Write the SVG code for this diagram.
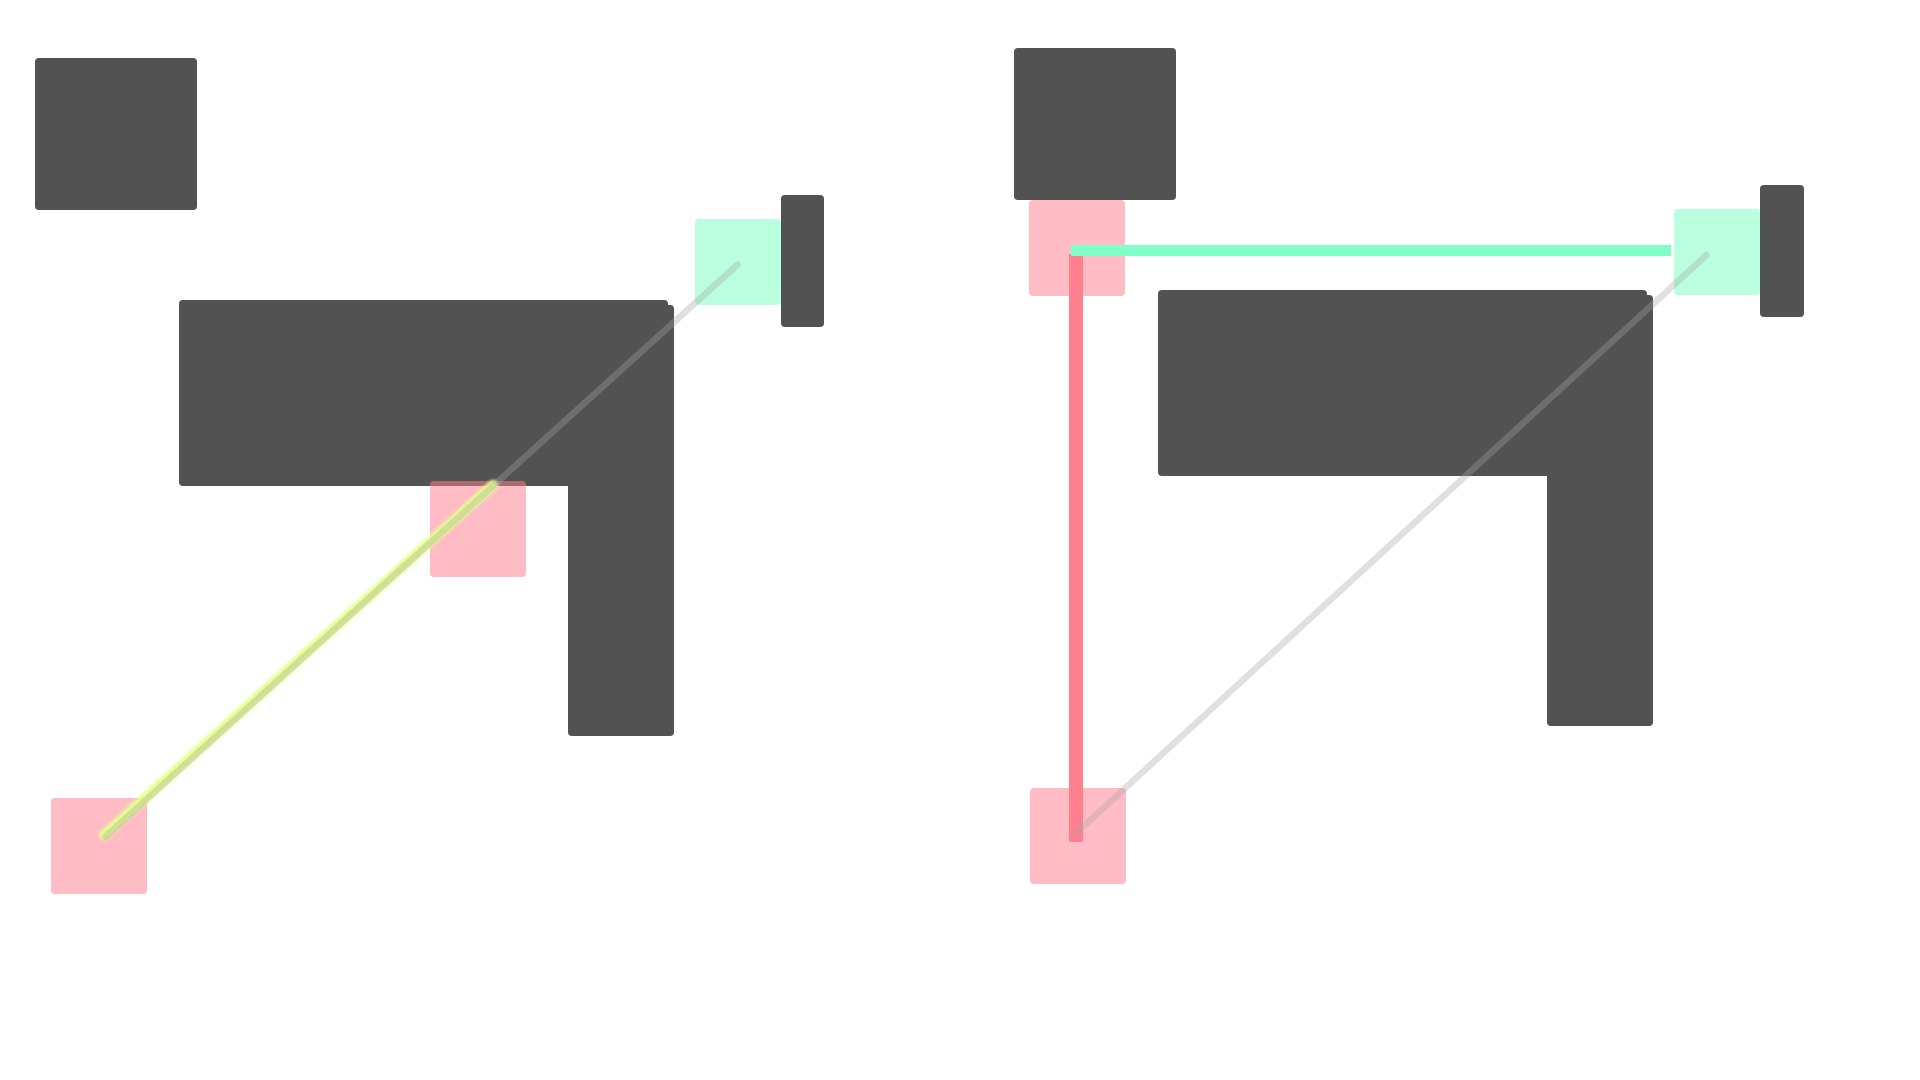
<svg xmlns="http://www.w3.org/2000/svg" width="1920" height="1080" viewBox="0 0 1920 1080">
  <style>
    .dark { fill: #525252; }
    .pink { fill: #ff7f8f; fill-opacity: 0.52; }
    .mint { fill: #7fffc6; fill-opacity: 0.53; }
    .gray { stroke: #a4a4a4; stroke-opacity: 0.34; stroke-width: 6.5; stroke-linecap: round; fill: none; }
    .glow { stroke: #e6ff8c; stroke-width: 10; stroke-linecap: round; fill: none; }
    .red { stroke: #ff808e; stroke-width: 14; fill: none; }
    .green { stroke: #80ffc8; stroke-width: 11; fill: none; }
  </style>
  <defs>
    <filter id="soft" x="-20%" y="-20%" width="140%" height="140%">
      <feGaussianBlur stdDeviation="1.7"/>
    </filter>
  </defs>
  <rect width="1920" height="1080" fill="#ffffff"/>

  <!-- Left panel -->
  <g id="left-block-a"><rect class="dark" x="35" y="58" width="162" height="152" rx="4"/></g>
  <g id="left-wall">
    <rect class="dark" x="179" y="300" width="489" height="186" rx="4"/>
    <rect class="dark" x="568" y="305" width="106" height="431" rx="4"/>
  </g>
  <g id="left-bar"><rect class="dark" x="781" y="195" width="43" height="132" rx="4"/></g>
  <g id="left-target"><rect class="mint" x="695" y="219" width="86" height="86" rx="4"/></g>
  <g id="left-mid"><rect class="pink" x="430" y="481" width="96" height="96" rx="4"/></g>
  <g id="left-start"><rect class="pink" x="51" y="798" width="96" height="96" rx="4"/></g>

  <!-- Right panel -->
  <g id="right-block-a"><rect class="dark" x="1014" y="48" width="162" height="152" rx="4"/></g>
  <g id="right-wall">
    <rect class="dark" x="1158" y="290" width="489" height="186" rx="4"/>
    <rect class="dark" x="1547" y="295" width="106" height="431" rx="4"/>
  </g>
  <g id="right-bar"><rect class="dark" x="1760" y="185" width="44" height="132" rx="4"/></g>
  <g id="right-target"><rect class="mint" x="1674" y="209" width="86" height="86" rx="4"/></g>
  <g id="right-top"><rect class="pink" x="1029" y="200" width="96" height="96" rx="4"/></g>
  <g id="right-start"><rect class="pink" x="1030" y="788" width="96" height="96" rx="4"/></g>

  <g id="connectors">
    <line class="glow" filter="url(#soft)" x1="104" y1="835" x2="493" y2="485"/>
    <line class="gray" x1="737.7" y1="264.5" x2="105.5" y2="836.5"/>
    <line class="red" x1="1076" y1="254" x2="1076" y2="842"/>
    <line class="green" x1="1071" y1="250.5" x2="1671" y2="250.5"/>
    <line class="gray" x1="1706.5" y1="255" x2="1076.5" y2="832.7"/>
  </g>
</svg>
